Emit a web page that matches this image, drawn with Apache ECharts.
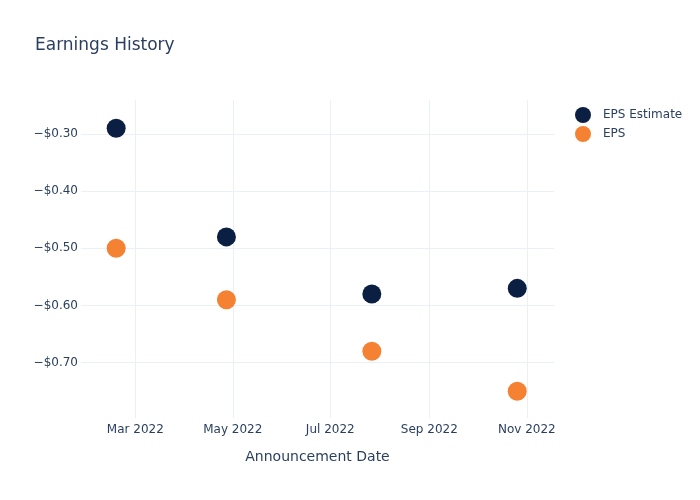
<!DOCTYPE html>
<html>
<head>
<meta charset="utf-8">
<script src="https://cdn.jsdelivr.net/npm/echarts@6/dist/echarts.min.js"></script>
<style>html,body{margin:0;padding:0;background:#fff}#c{width:700px;height:500px}</style>
</head>
<body>
<div id="c"></div>
<script>
const dates = ['2022-02-17', '2022-04-27', '2022-07-27', '2022-10-26'];
const epsEstimate = [-0.29, -0.48, -0.58, -0.57];
const eps = [-0.50, -0.59, -0.68, -0.75];
const xTicks = ['2022-03-01', '2022-05-01', '2022-07-01', '2022-09-01', '2022-11-01'];
const yTicks = [-0.7, -0.6, -0.5, -0.4, -0.3];
const monthNames = ['Jan','Feb','Mar','Apr','May','Jun','Jul','Aug','Sep','Oct','Nov','Dec'];

const ts = s => new Date(s + 'T00:00:00Z').getTime();
const xTickVals = xTicks.map(ts);
const textColor = '#2a3f5f';
const gridColor = '#ebf0f8';
const font = '"DejaVu Sans", Verdana, sans-serif';

const chart = echarts.init(document.getElementById('c'), null, {renderer: 'canvas'});
chart.setOption({
  animation: false,
  backgroundColor: '#fff',
  textStyle: {fontFamily: font},
  title: {
    text: 'Earnings History', left: 35, top: 37, padding: 0,
    textStyle: {fontSize: 17, fontWeight: 'normal', color: textColor, fontFamily: font}
  },
  legend: {
    orient: 'vertical', left: 570, top: 102, itemGap: 3,
    itemWidth: 16, itemHeight: 16, icon: 'circle',
    textStyle: {fontSize: 12, color: textColor, fontFamily: font, padding: [0, 0, 0, 7]},
    data: ['EPS Estimate', 'EPS']
  },
  grid: {left: 81, right: 146, top: 100, bottom: 82, containLabel: false},
  xAxis: {
    type: 'value',
    min: ts('2022-01-26'), max: ts('2022-11-18'),
    name: 'Announcement Date', nameLocation: 'middle', nameGap: 32,
    nameTextStyle: {fontSize: 14, color: textColor, fontFamily: font},
    axisLine: {show: false},
    axisTick: {show: false, customValues: xTickVals},
    splitLine: {show: true, lineStyle: {color: gridColor, width: 1}},
    axisLabel: {
      customValues: xTickVals, color: textColor, fontSize: 12, margin: 6, fontFamily: font,
      formatter: v => { const d = new Date(v); return monthNames[d.getUTCMonth()] + ' ' + d.getUTCFullYear(); }
    }
  },
  yAxis: {
    type: 'value',
    min: -0.7968, max: -0.2405,
    axisLine: {show: false},
    axisTick: {show: false, customValues: yTicks},
    splitLine: {show: true, lineStyle: {color: gridColor, width: 1}},
    axisLabel: {
      customValues: yTicks, color: textColor, fontSize: 12, margin: 3, fontFamily: font,
      formatter: v => (v < 0 ? '\u2212' : '') + '$' + Math.abs(v).toFixed(2)
    }
  },
  series: [
    {
      name: 'EPS Estimate', type: 'scatter', symbolSize: 19,
      itemStyle: {color: '#0b1f42', opacity: 1},
      data: dates.map((d, i) => [ts(d), epsEstimate[i]])
    },
    {
      name: 'EPS', type: 'scatter', symbolSize: 19,
      itemStyle: {color: '#f58233', opacity: 1},
      data: dates.map((d, i) => [ts(d), eps[i]])
    }
  ]
});
</script>
</body>
</html>
